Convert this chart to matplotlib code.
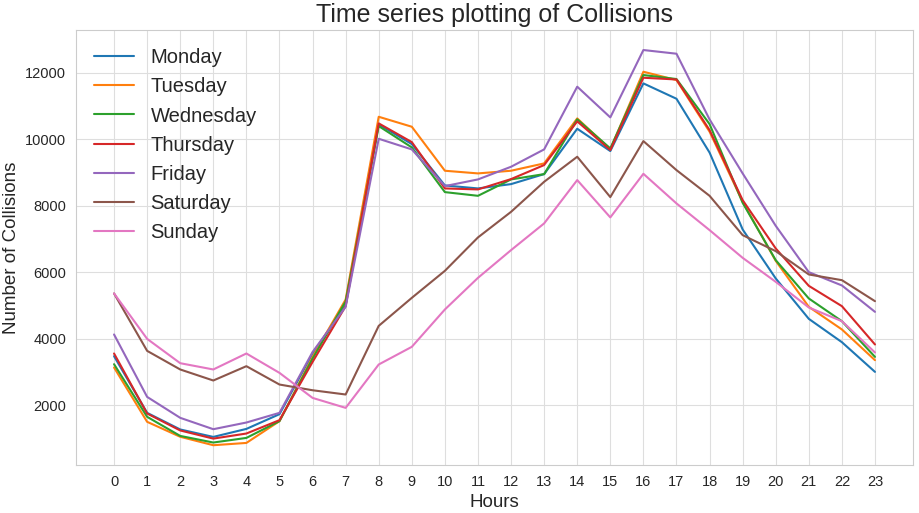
import numpy as np
import matplotlib
matplotlib.use("Agg")
import matplotlib.pyplot as plt
import seaborn as sns

# 数据：每小时事故数量
hours = list(range(24))
days = ['Monday', 'Tuesday', 'Wednesday', 'Thursday', 'Friday', 'Saturday', 'Sunday']

monday = [3475, 1770, 1270, 1046, 1287, 1730, 3550, 5010, 10450, 9856, 8612, 8522,
          8652, 8953, 10318, 9646, 11682, 11220, 9601, 7288, 5814, 4598, 3896, 3003]
tuesday = [3135, 1500, 1050, 796, 865, 1520, 3450, 5180, 10678, 10378, 9054, 8974,
           9054, 9275, 10629, 9700, 12033, 11783, 10230, 8120, 6344, 4959, 4279, 3355]
wednesday = [3234, 1650, 1076, 877, 1016, 1520, 3400, 5120, 10398, 9756, 8411, 8300,
             8793, 8953, 10600, 9726, 11933, 11813, 10458, 8090, 6364, 5211, 4528, 3454]
thursday = [3556, 1750, 1240, 995, 1148, 1550, 3300, 4980, 10479, 9916, 8522, 8492,
            8803, 9225, 10539, 9676, 11852, 11800, 10278, 8170, 6716, 5591, 4980, 3827]
friday = [4128, 2250, 1620, 1278, 1479, 1770, 3600, 4960, 10016, 9696, 8592, 8793,
          9174, 9696, 11583, 10659, 12686, 12575, 10599, 8974, 7397, 6003, 5603, 4809]
saturday = [5362, 3635, 3075, 2743, 3174, 2622, 2450, 2322, 4387, 5230, 6043, 7048,
            7818, 8722, 9475, 8261, 9946, 9073, 8300, 7117, 6635, 5933, 5762, 5130]
sunday = [5362, 3996, 3264, 3075, 3556, 2973, 2220, 1920, 3225, 3756, 4880, 5832,
          6666, 7470, 8773, 7650, 8962, 8071, 7268, 6434, 5712, 4940, 4528, 3586]

series = [monday, tuesday, wednesday, thursday, friday, saturday, sunday]

sns.set_style('whitegrid')
plt.rcParams['font.family'] = ['Liberation Sans', 'DejaVu Sans']

fig = plt.figure(figsize=(9.19, 5.13), dpi=100)
ax = fig.add_axes([0.0827, 0.0936, 0.9108, 0.8474])

for name, vals in zip(days, series):
    ax.plot(hours, vals, label=name, linewidth=1.5)

ax.grid(color='0.87')
for s in ax.spines.values():
    s.set_color('0.8')
ax.set_xticks(hours)
ax.tick_params(labelsize=10.5, colors='0.15')
ax.set_title('Time series plotting of Collisions', fontsize=18, color='0.15')
ax.set_xlabel('Hours', fontsize=13.5, color='0.15')
ax.set_ylabel('Number of Collisions', fontsize=13.5, color='0.15')
ax.legend(loc='upper left', fontsize=14.5, frameon=False)

fig.savefig('out.png', dpi=100)
